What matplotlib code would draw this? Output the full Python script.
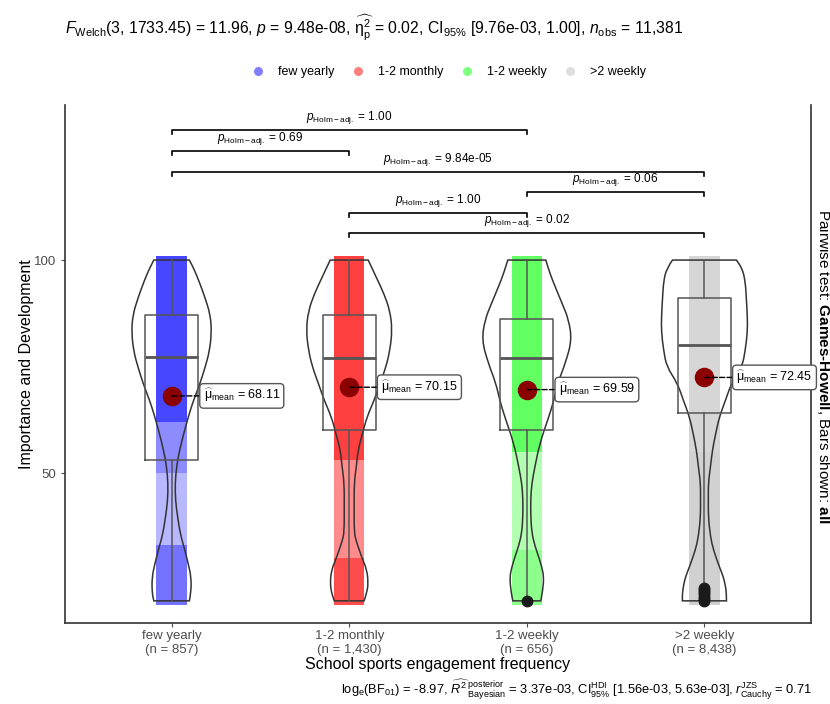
import matplotlib
matplotlib.use('Agg')
import matplotlib.pyplot as plt
from matplotlib.path import Path
from matplotlib.patches import PathPatch, Rectangle
from matplotlib.lines import Line2D

plt.rcParams['font.family'] = ['Liberation Sans', 'DejaVu Sans']
plt.rcParams['mathtext.fontset'] = 'custom'
plt.rcParams['mathtext.rm'] = 'Liberation Sans'
plt.rcParams['mathtext.it'] = 'Liberation Sans:italic'
plt.rcParams['mathtext.bf'] = 'Liberation Sans:bold'

# groups and summary values
groups = ['few yearly', '1-2 monthly', '1-2 weekly', '>2 weekly']
n_obs = ['857', '1,430', '656', '8,438']
colors = ['#0000FF', '#FF0000', '#00FF00', '#BEBEBE']
means = [68.11, 70.15, 69.59, 72.45]
q1 = [53.1, 60.1, 60.1, 64.0]
medians = [77.2, 77.1, 77.1, 80.0]
q3 = [87.1, 87.1, 86.1, 91.0]
whis_lo = [20, 20, 21, 24]
whis_hi = [100, 100, 100, 100]
outliers = [[], [], [20], [20, 20.5, 21, 21.5, 22, 22.5, 23]]

# violin outlines (value, half width in x units)
violin_y = [
    [20, 22, 25.6, 28.5, 31.9, 35.5, 39.7, 43.5, 47.6, 51.5, 55.4, 60, 64, 67.1, 71, 75, 78.5, 82.9, 87, 91, 95, 98, 100],
    [20, 22, 24.2, 27.2, 30, 32, 34, 36, 42, 47.6, 51.5, 55.4, 59, 63.2, 67, 71.1, 75, 79, 83.6, 88, 92, 96, 100],
    [20, 22.5, 25.6, 28, 30.3, 33, 36, 40, 44, 47.5, 51.4, 57, 63.2, 67, 71.1, 76, 81.2, 86, 90, 94, 97, 100],
    [20, 21.8, 23.5, 25.6, 28, 31.9, 35, 39.7, 44, 47.6, 51.5, 55.4, 59, 63.2, 67, 71.1, 75, 78.9, 83, 86.6, 91, 95, 98, 100],
]
violin_w = [
    [0.10, 0.11, 0.11, 0.095, 0.075, 0.05, 0.034, 0.022, 0.02, 0.028, 0.045, 0.073, 0.10, 0.124, 0.16, 0.19, 0.213, 0.225, 0.219, 0.19, 0.155, 0.125, 0.10],
    [0.084, 0.10, 0.107, 0.10, 0.073, 0.056, 0.04, 0.028, 0.028, 0.028, 0.04, 0.05, 0.073, 0.10, 0.14, 0.174, 0.208, 0.23, 0.242, 0.23, 0.197, 0.152, 0.107],
    [0.079, 0.09, 0.096, 0.084, 0.067, 0.045, 0.028, 0.022, 0.022, 0.028, 0.045, 0.073, 0.124, 0.152, 0.174, 0.219, 0.253, 0.236, 0.197, 0.157, 0.129, 0.107],
    [0.124, 0.124, 0.118, 0.107, 0.084, 0.051, 0.034, 0.022, 0.022, 0.022, 0.034, 0.045, 0.062, 0.084, 0.118, 0.152, 0.213, 0.23, 0.242, 0.242, 0.236, 0.23, 0.213, 0.18],
]

# density of the jittered points: (from, to, alpha)
point_bands = [
    [(20, 33, 0.55), (33, 50, 0.28), (50, 62, 0.45), (62, 100, 0.72)],
    [(20, 30, 0.7), (30, 53, 0.45), (53, 100, 0.75)],
    [(20, 32, 0.45), (32, 55, 0.3), (55, 100, 0.62)],
    [(20, 25, 0.72), (25, 55, 0.7), (55, 100, 0.62)],
]

# pairwise comparisons
pairs = [(1, 3), (1, 2), (1, 4), (3, 4), (2, 3), (2, 4)]
p_labels = ['1.00', '0.69', '9.84e-05', '0.06', '1.00', '0.02']
bar_y = [130.5, 125.6, 120.7, 116.0, 111.0, 106.3]


def smooth_side(pts):
    verts = [pts[0]]
    codes = [Path.LINETO]
    for i in range(1, len(pts) - 1):
        mid = ((pts[i][0] + pts[i + 1][0]) / 2, (pts[i][1] + pts[i + 1][1]) / 2)
        verts += [pts[i], mid]
        codes += [Path.CURVE3, Path.CURVE3]
    verts.append(pts[-1])
    codes.append(Path.LINETO)
    return verts, codes


fig = plt.figure(figsize=(8.3, 7.04), dpi=100)
ax = fig.add_axes([65 / 830, 81 / 704, 746 / 830, 518 / 704])

for i, g in enumerate(groups):
    x = i + 1
    # jittered points, drawn as a band
    for lo, hi, a in point_bands[i]:
        lo_e = lo - 0.9 if lo == 20 else lo
        hi_e = hi + 0.9 if hi == 100 else hi
        ax.add_patch(Rectangle((x - 0.085, lo_e), 0.17, hi_e - lo_e,
                               facecolor=colors[i], alpha=a, lw=0, zorder=1))
    # violin
    right = [(x + w, y) for y, w in zip(violin_y[i], violin_w[i])]
    left = [(x - w, y) for y, w in zip(violin_y[i], violin_w[i])][::-1]
    rv, rc = smooth_side(right)
    lv, lc = smooth_side(left)
    rc[0] = Path.MOVETO
    verts = rv + lv + [rv[0]]
    codes = rc + lc + [Path.CLOSEPOLY]
    ax.add_patch(PathPatch(Path(verts, codes), facecolor='none',
                           edgecolor='#333333', lw=1.1, zorder=3))

stats = []
for i in range(len(groups)):
    stats.append(dict(med=medians[i], q1=q1[i], q3=q3[i], whislo=whis_lo[i],
                      whishi=whis_hi[i], fliers=outliers[i]))
ax.bxp(stats, positions=[1, 2, 3, 4], widths=0.3, showfliers=True,
       boxprops=dict(color='#555555', lw=1.1),
       medianprops=dict(color='#555555', lw=2),
       whiskerprops=dict(color='#555555', lw=1.1),
       capprops=dict(lw=0),
       flierprops=dict(marker='o', markerfacecolor='#1a1a1a', markeredgecolor='#1a1a1a',
                       markersize=7.5),
       zorder=4)

# means with labels
for i, m in enumerate(means):
    ax.scatter(i + 1, m, s=170, color='#8B0000', zorder=6)
    ax.annotate(r'$\widehat{\mathrm{\mu}}_{\mathrm{mean}}$ = ' + f'{m:.2f}',
                xy=(i + 1, m), xytext=(23, 0), textcoords='offset points',
                ha='left', va='center', fontsize=9, zorder=7,
                bbox=dict(boxstyle='round,pad=0.3', fc='white', ec='#555555', lw=1),
                arrowprops=dict(arrowstyle='-', ls='--', color='black', lw=1,
                                shrinkA=0, shrinkB=0))

# significance bars
for (a, b), lab, y in zip(pairs, p_labels, bar_y):
    ax.plot([a, a, b, b], [y - 0.9, y, y, y - 0.9], color='black', lw=1.2, zorder=5)
    ax.annotate(r'$\mathit{p}_{\mathrm{Holm-adj.}}$ = ' + lab, xy=((a + b) / 2, y),
                xytext=(0, 3), textcoords='offset points', ha='center', va='bottom',
                fontsize=8.5)

ax.set_xlim(0.4, 4.6)
ax.set_ylim(14.8, 136.4)
ax.set_yticks([50, 100])
ax.set_xticks([1, 2, 3, 4])
ax.set_xticklabels([f'{g}\n(n = {n})' for g, n in zip(groups, n_obs)])
ax.tick_params(colors='#4D4D4D', labelsize=9.5, length=3)
ax.tick_params(axis='x', pad=2)
ax.tick_params(axis='y', right=False)
ax.set_xlabel('School sports engagement frequency', fontsize=11.5, labelpad=1)
ax.set_ylabel('Importance and Development', fontsize=11.5, labelpad=0)
ax.spines['top'].set_visible(False)
for s in ['left', 'bottom', 'right']:
    ax.spines[s].set_color('#333333')
    ax.spines[s].set_linewidth(1.2)

# legend
handles = [Line2D([], [], marker='o', ls='', color=c, alpha=0.5, markersize=6.5,
                  markeredgewidth=0) for c in colors]
fig.legend(handles, groups, loc='center', bbox_to_anchor=(0.537, 1 - 72 / 704),
           ncol=4, frameon=False, fontsize=9, handletextpad=0.6, columnspacing=0.9)

fig.text(65 / 830, 1 - 28 / 704,
         r'$\mathit{F}_{\mathrm{Welch}}$(3, 1733.45) = 11.96, $\mathit{p}$ = 9.48e-08, '
         r'$\widehat{\mathrm{\eta}_{\mathrm{p}}^{2}}$ = 0.02, CI$_{95\%}$ [9.76e-03, 1.00], '
         r'$\mathit{n}_{\mathrm{obs}}$ = 11,381',
         ha='left', va='center', fontsize=11.3)

fig.text(812 / 830, 1 - 690 / 704,
         r'log$_{\mathrm{e}}$(BF$_{01}$) = -8.97, '
         r'$\widehat{\mathit{R}^{2}}\,{}_{\mathrm{Bayesian}}^{\mathrm{posterior}}$ = 3.37e-03, '
         r'CI$_{95\%}^{\mathrm{HDI}}$ [1.56e-03, 5.63e-03], '
         r'$\mathit{r}_{\mathrm{Cauchy}}^{\mathrm{JZS}}$ = 0.71',
         ha='right', va='center', fontsize=9.3)

fig.text(823 / 830, 1 - 366 / 704,
         r'Pairwise test: $\mathbf{Games‐Howell}$, Bars shown: $\mathbf{all}$',
         rotation=-90, ha='center', va='center', fontsize=11)

fig.savefig('out.png', dpi=100)
